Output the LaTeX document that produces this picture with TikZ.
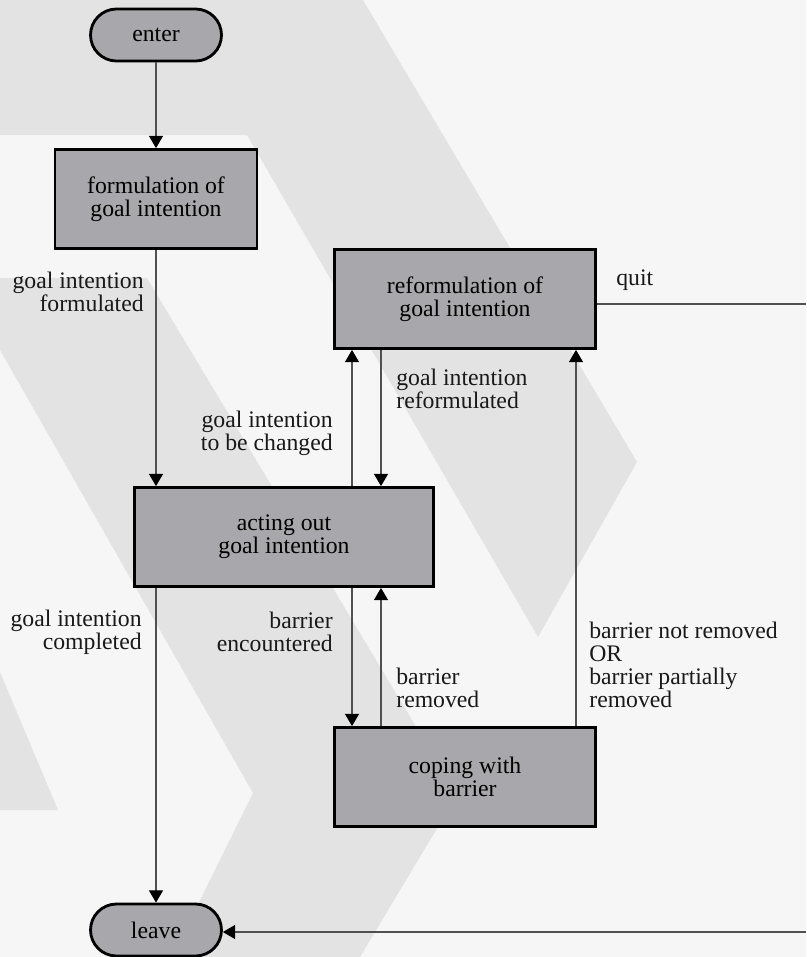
\documentclass[tikz,border=0pt]{standalone}
\usepackage{fontspec}
\setmainfont{Liberation Serif}
\usetikzlibrary{arrows.meta,positioning}
\definecolor{paper}{HTML}{F6F6F6}
\definecolor{chevron}{HTML}{E3E3E3}
\definecolor{boxgray}{HTML}{A8A8AC}
\definecolor{linegray}{HTML}{505050}

\begin{document}
\begin{tikzpicture}[
    x=0.02cm, y=-0.02cm,
    state/.style={draw, line width=1.6pt, fill=boxgray, minimum height=1.98cm, align=center, font=\fontsize{13.5}{13.1}\selectfont},
    terminal/.style={draw, line width=1.6pt, fill=boxgray, rounded corners=0.52cm, minimum width=2.62cm, minimum height=1.04cm, font=\fontsize{13.5}{13.1}\selectfont},
    flow/.style={draw=linegray, line width=0.7pt, -{Triangle[length=7pt,width=8pt,black]}},
    cond/.style={inner sep=0pt, text=black!90, font=\fontsize{13.5}{13.1}\selectfont}
]
    % background
    \useasboundingbox (0,0) rectangle (806,957);
    \fill[paper] (0,0) rectangle (806,957);
    \fill[chevron] (0,0) -- (363,0) -- (637,462) -- (538,637) -- (247,135) -- (0,135) -- cycle;
    \fill[chevron] (0,278) -- (147,278) -- (457,795) -- (360,957) -- (172,957) -- (253,793) -- (0,350) -- cycle;
    \fill[chevron] (0,672) -- (58,810) -- (0,810) -- cycle;

    \node[terminal] (enter) at (156,35) {enter};
    \node[state, minimum width=4.04cm] (formul) at (156,199) {formulation of\\goal intention};
    \node[state, minimum width=5.22cm] (reform) at (465,299) {reformulation of\\goal intention};
    \node[state, minimum width=5.98cm] (acting) at (284,537) {acting out\\goal intention};
    \node[state, minimum width=5.22cm] (coping) at (465,777) {coping with\\barrier};
    \node[terminal] (leave) at (156,930) {leave};

    \coordinate (upx) at (352,0);
    \coordinate (downx) at (381,0);
    \coordinate (backx) at (576,0);
    \coordinate (quitend) at (806,304);
    \coordinate (leaveend) at (806,932);

    \draw[flow] (enter) -- (formul);
    \draw[flow] (formul.south) -- (formul.south |- acting.north);
    \draw[flow] (acting.south -| enter) -- (leave);
    \draw[flow] (acting.north -| upx) -- (reform.south -| upx);
    \draw[flow] (reform.south -| downx) -- (acting.north -| downx);
    \draw[flow] (acting.south -| upx) -- (coping.north -| upx);
    \draw[flow] (coping.north -| downx) -- (acting.south -| downx);
    \draw[flow] (coping.north -| backx) -- (reform.south -| backx);
    \draw[linegray, line width=0.7pt] (reform.east |- quitend) -- (quitend);
    \draw[flow] (leaveend) -- (leave.east |- leaveend);

    \node[cond, anchor=east, align=right] (lformul) at (144,292) {goal intention\\formulated};
    \node[cond, anchor=east, align=right] (lchange) at (333,433) {goal intention\\to be changed};
    \node[cond, anchor=west, align=left] (lreform) at (396,389) {goal intention\\reformulated};
    \node[cond, anchor=west] (lquit) at (616,280) {quit};
    \node[cond, anchor=east, align=right] (ldone) at (142,632) {goal intention\\completed};
    \node[cond, anchor=east, align=right] (lmeet) at (333,632) {barrier\\encountered};
    \node[cond, anchor=west, align=left] (lremoved) at (396,688) {barrier\\removed};
    \node[cond, anchor=west, align=left] (lfailed) at (589,665) {barrier not removed\\OR\\barrier partially\\removed};
\end{tikzpicture}
\end{document}
